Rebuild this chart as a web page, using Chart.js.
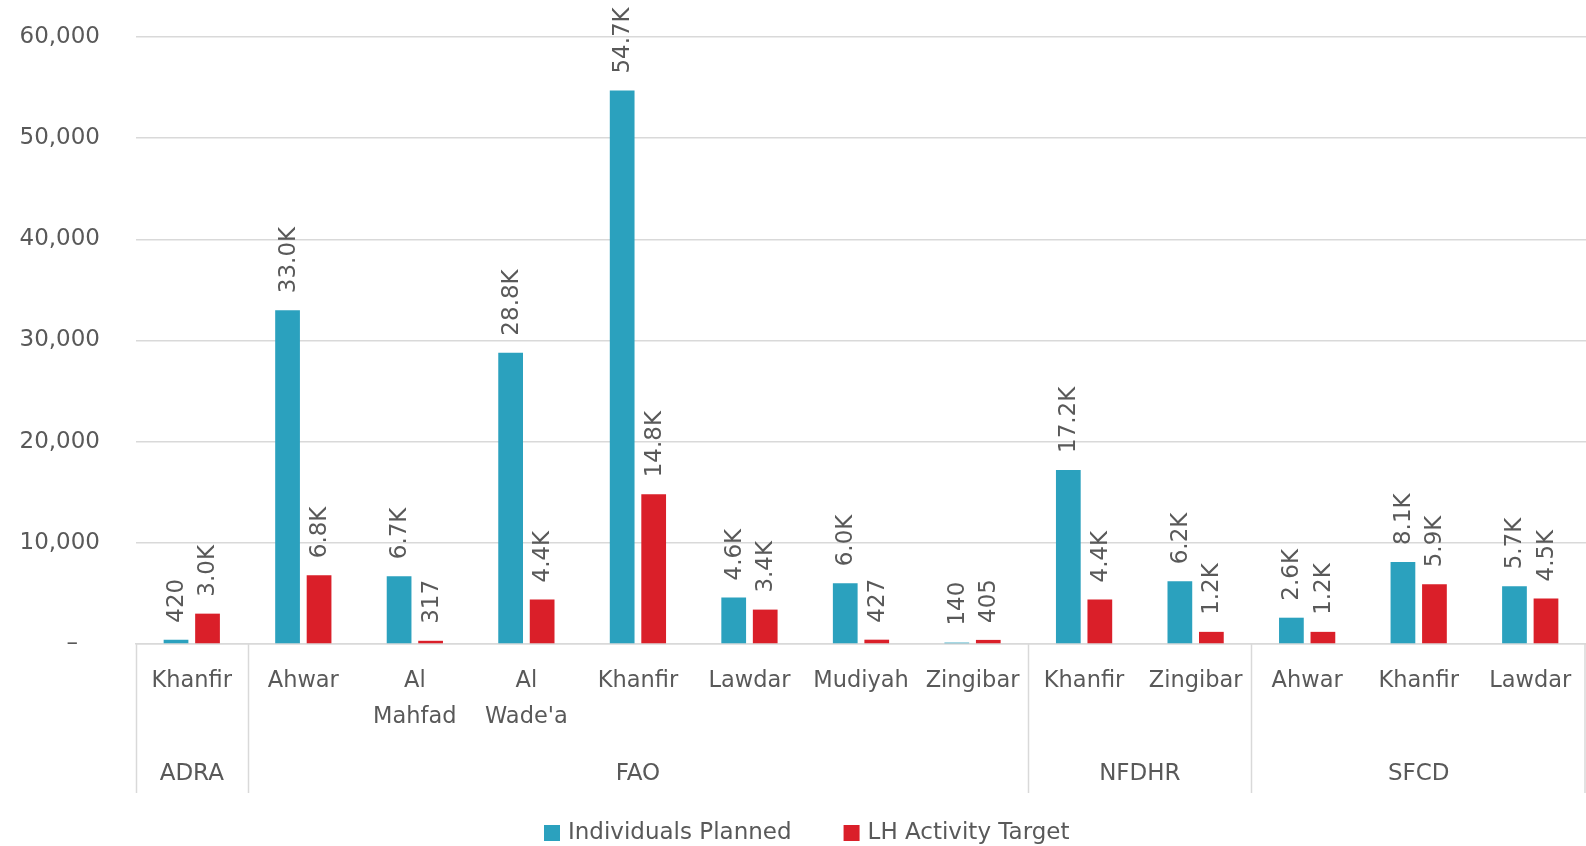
<!DOCTYPE html>
<html>
<head>
<meta charset="utf-8">
<script src="https://cdn.jsdelivr.net/npm/chart.js@4"></script>
<style>
  html, body { margin: 0; padding: 0; background: #fff; }
  #wrap { width: 1586px; height: 846px; }
</style>
</head>
<body>
<div id="wrap"><canvas id="partnerChart"></canvas></div>
<script>
// categories (district under partner)
const districts = ['Khanfir', 'Ahwar', ['Al', 'Mahfad'], ['Al', "Wade'a"], 'Khanfir', 'Lawdar', 'Mudiyah', 'Zingibar', 'Khanfir', 'Zingibar', 'Ahwar', 'Khanfir', 'Lawdar'];
const partners = ['ADRA', 'FAO', 'NFDHR', 'SFCD'];
const partnerSpan = [1, 7, 2, 3];

// series
const individualsPlanned = [420, 33000, 6700, 28800, 54700, 4600, 6000, 140, 17200, 6200, 2600, 8100, 5700];
const lhActivityTarget = [3000, 6800, 317, 4400, 14800, 3400, 427, 405, 4400, 1200, 1200, 5900, 4500];

// y ticks
const yTicks = [0, 10000, 20000, 30000, 40000, 50000, 60000];

const textColor = '#595959';
const gridColor = '#d9d9d9';
const fontFamily = '"DejaVu Sans", sans-serif';

function shortLabel(v) {
    if (v < 1000) return String(v);
    return (v / 1000).toFixed(1) + 'K';
}

// rotated value labels above bars
const valueLabels = {
    id: 'valueLabels',
    afterDatasetsDraw(chart) {
        const ctx = chart.ctx;
        ctx.save();
        ctx.fillStyle = textColor;
        ctx.font = '23px ' + fontFamily;
        ctx.textAlign = 'left';
        ctx.textBaseline = 'middle';
        chart.data.datasets.forEach((ds, di) => {
            chart.getDatasetMeta(di).data.forEach((bar, i) => {
                ctx.save();
                ctx.translate(bar.x, bar.y - 17);
                ctx.rotate(-Math.PI / 2);
                ctx.fillText(shortLabel(ds.data[i]), 0, 1);
                ctx.restore();
            });
        });
        ctx.restore();
    }
};

// partner level of the axis, separators and legend
const partnerAxis = {
    id: 'partnerAxis',
    afterDraw(chart) {
        const ctx = chart.ctx;
        const x = chart.scales.x;
        const top = chart.chartArea.bottom;
        const step = x.width / districts.length;
        ctx.save();
        ctx.strokeStyle = gridColor;
        ctx.lineWidth = 1.5;
        ctx.fillStyle = textColor;
        ctx.font = '23px ' + fontFamily;
        ctx.textAlign = 'center';
        ctx.textBaseline = 'middle';
        let start = 0;
        partners.forEach((p, gi) => {
            const x0 = x.getPixelForValue(start) - step / 2;
            const x1 = x.getPixelForValue(start + partnerSpan[gi] - 1) + step / 2;
            ctx.beginPath();
            ctx.moveTo(Math.round(x0) + 0.5, top);
            ctx.lineTo(Math.round(x0) + 0.5, top + 149);
            ctx.stroke();
            if (gi === partners.length - 1) {
                ctx.beginPath();
                ctx.moveTo(Math.round(x1) - 1, top);
                ctx.lineTo(Math.round(x1) - 1, top + 149);
                ctx.stroke();
            }
            ctx.fillText(p, (x0 + x1) / 2, top + 130);
            start += partnerSpan[gi];
        });

        // legend
        ctx.font = '23px ' + fontFamily;
        ctx.textAlign = 'left';
        let lx = 544;
        const ly = 833;
        chart.data.datasets.forEach(ds => {
            ctx.fillStyle = ds.backgroundColor;
            ctx.fillRect(lx, ly - 8, 16, 16);
            ctx.fillStyle = textColor;
            ctx.fillText(ds.label, lx + 24, ly);
            lx += 24 + ctx.measureText(ds.label).width + 52;
        });
        ctx.restore();
    }
};

const ctx = document.getElementById('partnerChart').getContext('2d');
new Chart(ctx, {
    type: 'bar',
    data: {
        labels: districts,
        datasets: [{
            label: 'Individuals Planned',
            data: individualsPlanned,
            backgroundColor: '#2ba1be'
        }, {
            label: 'LH Activity Target',
            data: lhActivityTarget,
            backgroundColor: '#da1f29'
        }]
    },
    options: {
        responsive: true,
        maintainAspectRatio: false,
        animation: false,
        layout: { padding: { top: 37, left: 0, right: 0, bottom: 0 } },
        datasets: {
            bar: { categoryPercentage: 0.565, barPercentage: 0.785 }
        },
        plugins: {
            legend: { display: false },
            tooltip: { enabled: false }
        },
        scales: {
            x: {
                grid: { display: false, drawTicks: false },
                border: { color: gridColor, width: 1.5 },
                ticks: {
                    color: textColor,
                    font: { family: fontFamily, size: 22.5, lineHeight: 1.6 },
                    padding: 19,
                    maxRotation: 0,
                    autoSkip: false
                },
                afterFit(scale) {
                    scale.height = 202;
                    scale.paddingLeft = 0;
                    scale.paddingRight = 0;
                }
            },
            y: {
                min: 0,
                max: 60000,
                grid: { color: gridColor, lineWidth: 1.5, drawTicks: false },
                border: { display: false },
                afterBuildTicks(scale) {
                    scale.ticks = yTicks.map(v => ({ value: v }));
                },
                ticks: {
                    color: textColor,
                    font: { family: fontFamily, size: 23 },
                    padding: 36,
                    callback: v => v === 0 ? '–   ' : v.toLocaleString('en-US')
                },
                afterFit(scale) {
                    scale.width = 136;
                    scale.paddingTop = 0;
                    scale.paddingBottom = 0;
                }
            }
        }
    },
    plugins: [valueLabels, partnerAxis]
});
</script>
</body>
</html>
